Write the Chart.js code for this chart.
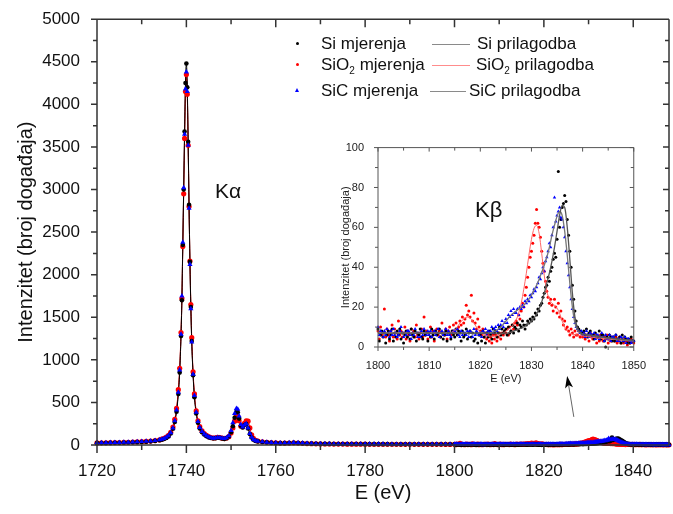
<!DOCTYPE html>
<html>
<head>
<meta charset="utf-8">
<script src="https://cdn.jsdelivr.net/npm/chart.js@4.4.1/dist/chart.umd.min.js"></script>
<style>
  html, body { margin: 0; padding: 0; background: #fff; }
  #wrap { position: relative; width: 673px; height: 514px; overflow: hidden; font-family: "Liberation Sans", Arial, sans-serif; color: #111; }
  #main { position: absolute; left: 0; top: 0; }
  #inset { position: absolute; left: 330px; top: 135px; }
  .lg { position: absolute; font-size: 17px; line-height: 20px; white-space: nowrap; }
  .lg sub { font-size: 10px; vertical-align: -4px; line-height: 0; }
  .ln { position: absolute; height: 0; border-top: 1px solid #8a8a8a; }
  .dot { position: absolute; width: 3px; height: 3px; border-radius: 50%; }
  .tri { position: absolute; width: 0; height: 0; border-left: 2.5px solid transparent; border-right: 2.5px solid transparent; border-bottom: 4px solid #0000ff; }
  .lbl { position: absolute; font-size: 21px; line-height: 24px; }
</style>
</head>
<body>
<div id="wrap">
  <canvas id="main" width="673" height="514"></canvas>
  <canvas id="inset" width="320" height="260"></canvas>

  <div class="dot" style="left:296px;top:42px;background:#000"></div>
  <div class="lg" style="left:321px;top:34px">Si mjerenja</div>
  <div class="ln" style="left:432px;top:44px;width:38px"></div>
  <div class="lg" style="left:477px;top:34px">Si prilagodba</div>

  <div class="dot" style="left:296px;top:63px;background:#ff0000"></div>
  <div class="lg" style="left:321px;top:55px">SiO<sub>2</sub> mjerenja</div>
  <div class="ln" style="left:432px;top:65px;width:38px;border-color:#ff8c8c"></div>
  <div class="lg" style="left:476px;top:55px">SiO<sub>2</sub> prilagodba</div>

  <div class="tri" style="left:295px;top:88px"></div>
  <div class="lg" style="left:321px;top:81px">SiC mjerenja</div>
  <div class="ln" style="left:430px;top:91px;width:36px"></div>
  <div class="lg" style="left:469px;top:81px">SiC prilagodba</div>

  <div class="lbl" style="left:215px;top:179px">Kα</div>
  <div class="lbl" style="left:475px;top:198px;font-size:22px">Kβ</div>
</div>
<script>
// Ka region: energies (eV) and counts
const eAlpha = [1720, 1721, 1722, 1723, 1724, 1725, 1726, 1727, 1728, 1729, 1730, 1731, 1732, 1733, 1734,
  1734.5, 1735, 1735.5, 1736, 1736.5, 1737, 1737.4, 1737.8, 1738.2, 1738.5, 1738.8,
  1739, 1739.2, 1739.4, 1739.6, 1739.8, 1740, 1740.2, 1740.4, 1740.6, 1740.8, 1741, 1741.2,
  1741.5, 1741.8, 1742.2, 1742.6, 1743,
  1743.5, 1744, 1744.5, 1745, 1745.5, 1746, 1746.5, 1747, 1747.5, 1748, 1748.5, 1749, 1749.5, 1750,
  1750.4, 1750.8, 1751.2, 1751.5, 1751.8, 1752.2, 1752.6, 1753, 1753.4, 1753.8, 1754.2, 1754.6,
  1755, 1755.5, 1756,
  1757, 1758, 1759, 1760, 1761, 1762, 1763, 1764, 1765, 1766, 1767, 1768, 1769, 1770, 1771, 1772,
  1773, 1774, 1775, 1776, 1777, 1778, 1779, 1780, 1781, 1782, 1783, 1784, 1785, 1786, 1787, 1788,
  1789, 1790, 1791, 1792, 1793, 1794, 1795, 1796, 1797, 1798, 1799];

const siAlpha = [22, 23, 24, 25, 26, 27, 28, 30, 32, 34, 36, 39, 43, 48, 56,
  62, 70, 82, 100, 135, 190, 270, 390, 600, 850, 1280,
  1700, 2350, 3000, 3680, 4250, 4480, 4200, 3560, 2820, 2150, 1620, 1220,
  820, 560, 370, 260, 195,
  150, 122, 102, 90, 82, 78, 80, 86, 84, 76, 72, 80, 100, 150,
  220, 320, 390, 385, 310, 225, 205, 235, 245, 195, 130, 88,
  62, 48, 42,
  36, 31, 27, 24, 22, 22, 24, 26, 24, 21, 18, 16, 15, 14, 13, 13, 12, 12, 12, 11, 11, 11,
  11, 10, 10, 10, 10, 10, 10, 9, 9, 9, 9, 9, 9, 9, 9, 8, 8, 8, 8, 8, 8];

const sio2Alpha = [24, 25, 26, 27, 28, 29, 30, 32, 34, 36, 39, 42, 46, 52, 60,
  68, 78, 92, 112, 150, 210, 300, 430, 650, 900, 1320,
  1720, 2330, 2950, 3600, 4150, 4350, 4120, 3520, 2800, 2160, 1650, 1260,
  860, 600, 400, 285, 215,
  165, 135, 112, 98, 88, 82, 84, 90, 88, 80, 76, 82, 98, 140,
  200, 280, 330, 335, 285, 220, 215, 255, 285, 280, 200, 120,
  78, 56, 46,
  38, 32, 28, 25, 23, 22, 23, 25, 23, 20, 17, 15, 14, 13, 12, 12, 11, 11, 11, 10, 10, 10,
  10, 10, 9, 9, 9, 9, 9, 9, 9, 8, 8, 8, 8, 8, 8, 8, 8, 8, 8, 7, 7];

const sicAlpha = [25, 26, 27, 28, 29, 30, 31, 33, 35, 37, 40, 43, 47, 53, 61,
  68, 77, 90, 110, 145, 200, 285, 410, 620, 880, 1300,
  1750, 2380, 3020, 3650, 4180, 4380, 4150, 3520, 2780, 2120, 1600, 1210,
  830, 580, 385, 275, 205,
  158, 128, 108, 95, 86, 80, 82, 88, 86, 78, 75, 84, 110, 170,
  260, 370, 430, 420, 340, 240, 210, 235, 250, 200, 135, 90,
  64, 50, 44,
  38, 33, 29, 26, 24, 24, 26, 28, 26, 23, 20, 18, 16, 15, 14, 14, 13, 13, 13, 12, 12, 12,
  12, 11, 11, 11, 11, 11, 10, 10, 10, 10, 10, 10, 10, 9, 9, 9, 9, 9, 9, 9, 9];

// Kb region: spectra from 1800 eV in 0.25 eV channels
const betaStart = 1800, betaStep = 0.25;
const siBeta = [
  9, 3, 6, 8, 5, 7, 2, 6, 8, 4, 6, 9, 3, 7, 5, 8, 6, 9, 4, 7, 2, 6, 8, 5,
  7, 4, 9, 6, 5, 8, 3, 7, 6, 9, 5, 4, 8, 6, 7, 3, 7, 5, 9, 6, 4, 8, 6, 7,
  9, 5, 7, 4, 6, 8, 3, 7, 7, 4, 8, 6, 5, 9, 6, 8, 7, 3, 8, 5, 6, 9, 4, 7,
  8, 5, 7, 3, 4, 7, 2, 6, 6, 3, 8, 5, 2, 7, 5, 8, 6, 4, 9, 7, 8, 5, 7, 10,
  6, 9, 7, 8, 9, 6, 10, 7, 8, 11, 7, 10, 9, 12, 8, 11, 10, 13, 11, 9, 11, 13, 12, 14,
  13, 15, 14, 17, 16, 19, 18, 21, 22, 25, 27, 30, 31, 35, 33, 38, 40, 44, 47, 45,
  54, 88, 60, 64, 70, 72, 76, 73, 64, 56, 48, 40, 31, 24, 18, 13, 10, 9, 8, 7,
  7, 8, 6, 9, 5, 7, 8, 6, 6, 4, 7, 5, 5, 8, 4, 6, 6, 3, 0, 5, 4, 6, 5, 3,
  5, 3, 6, 4, 4, 5, 2, 6, 3, 5, 4, 2, 4, 2, 5, 3, 3];
const sio2Beta = [
  8, 4, 10, 6, 7, 19, 5, 9, 6, 3, 8, 11, 5, 9, 7, 4, 13, 6, 8, 5, 7, 10, 4, 8,
  6, 3, 9, 7, 8, 5, 11, 6, 4, 7, 9, 5, 15, 6, 8, 4, 7, 10, 5, 8, 3, 7, 9, 6,
  8, 5, 12, 7, 6, 9, 4, 8, 10, 6, 8, 11, 7, 12, 9, 10, 13, 11, 15, 12, 14, 21, 16, 18,
  15, 26, 13, 17, 12, 9, 14, 10, 8, 6, 9, 5, 7, 4, 6, 3, 5, 2, 6, 4, 6, 3, 5, 7,
  4, 7, 6, 8, 7, 9, 6, 10, 8, 11, 9, 12, 13, 11, 16, 14, 18, 22, 20, 26, 30, 35, 40, 45,
  48, 52, 56, 62, 69, 62, 60, 55, 48, 42, 38, 33, 28, 25, 22, 24, 21, 18, 24, 20,
  17, 22, 15, 18, 14, 11, 13, 9, 10, 8, 6, 9, 7, 5, 8, 6, 6, 8, 5, 7,
  5, 7, 4, 6, 6, 3, 7, 5, 4, 6, 5, 2, 5, 3, 6, 4, 3, 5, 4, 6, 2, 4, 3, 5,
  4, 3, 5, 2, 3, 5, 2, 4, 2, 4, 3, 1, 3, 2, 4, 3, 2];
const sicBeta = [
  10, 6, 8, 7, 5, 8, 6, 9, 7, 5, 8, 6, 9, 6, 7, 5, 6, 8, 10, 7, 5, 7, 6, 8,
  8, 6, 4, 7, 6, 9, 7, 5, 7, 5, 8, 6, 9, 7, 6, 8, 6, 8, 5, 7, 8, 6, 7, 9,
  5, 7, 8, 6, 7, 9, 6, 8, 6, 5, 7, 8, 8, 7, 9, 6, 5, 8, 6, 7, 7, 6, 8, 5,
  8, 7, 5, 9, 6, 8, 7, 6, 7, 5, 8, 7, 9, 6, 8, 7, 8, 10, 7, 9, 10, 8, 11, 9,
  11, 13, 10, 12, 14, 12, 16, 15, 18, 16, 19, 17, 17, 19, 16, 20, 19, 21, 20, 23, 22, 24, 23, 26,
  25, 27, 29, 28, 30, 32, 35, 34, 37, 40, 38, 43, 45, 48, 52, 50, 56, 60, 75, 63,
  66, 68, 70, 65, 64, 60, 55, 48, 42, 36, 30, 24, 19, 15, 12, 10, 9, 8, 7, 8,
  6, 7, 5, 8, 6, 5, 7, 6, 5, 7, 4, 6, 6, 4, 5, 7, 5, 3, 6, 4, 4, 6, 3, 5,
  5, 4, 6, 3, 4, 3, 5, 4, 3, 5, 2, 4, 4, 3, 2, 3, 3];

// Kb fits from 1800 eV in 0.5 eV steps
const fitStart = 1800, fitStep = 0.5;
const siFit = [
  7, 7, 7, 7, 7, 7, 7, 7, 7, 7, 7, 7, 7, 7, 7, 7, 7, 7, 7, 7, 7, 7, 7, 7, 7, 7,
  7, 7, 7, 7, 7, 7, 7, 7, 7, 7, 7, 7, 7, 7, 7, 7, 7, 7, 7, 7, 7, 7, 7, 7, 7, 7,
  7.5, 8, 8.5, 9, 9.5, 10, 11, 12, 13, 14.5, 16.5, 19, 22.5, 27, 32, 37, 43, 50, 58, 66,
  71, 70, 60, 44, 27, 15, 9.5, 7.5, 6.5,
  6.3, 6.1, 6, 5.8, 5.6, 5.4, 5.2, 5, 4.8, 4.6, 4.5, 4.3, 4.2, 4, 3.9, 3.8, 3.7, 3.6, 3.5, 3.4];
const sio2Fit = [
  7, 7, 7, 7, 7, 7, 7, 7, 7, 7, 7, 7, 7, 7, 7, 7, 7, 7, 7, 7, 7, 7, 7, 7, 7, 7, 7, 7, 7,
  7.5, 8.5, 10, 12, 13.5, 14.5, 15, 14.5, 13, 11, 9, 7.5, 6.5, 6, 5.5, 5.5, 5.5, 5.5, 6, 6.5,
  7, 8, 9, 10, 11.5, 13.5, 17, 22, 29, 37, 46, 54, 59.5, 61, 57, 47, 36, 28, 24, 22,
  21, 19.5, 17, 13, 10, 8, 7, 6.5, 6.2, 6, 5.8, 5.6,
  5.4, 5.2, 5, 4.8, 4.7, 4.5, 4.4, 4.2, 4.1, 4, 3.9, 3.8, 3.7, 3.6, 3.5, 3.4, 3.3, 3.2, 3.1, 3];
const sicFit = [
  7, 7, 7, 7, 7, 7, 7, 7, 7, 7, 7, 7, 7, 7, 7, 7, 7, 7, 7, 7, 7, 7, 7,
  7, 7, 7, 7, 7, 7, 7, 7, 7, 7, 7, 7, 7, 7, 7, 7, 7, 7, 7, 7, 7, 7,
  7.5, 8, 9, 10, 11.5, 13, 14.5, 16, 17, 18, 19, 20, 21, 22.5, 24, 26, 28.5, 31, 34, 37.5,
  41, 45, 50, 56, 61, 65.5, 68, 66, 58, 46, 32, 20, 12, 8.5, 7, 6.5,
  6.2, 6, 5.8, 5.6, 5.4, 5.2, 5, 4.8, 4.6, 4.4, 4.2, 4.1, 3.9, 3.8, 3.6, 3.5, 3.4, 3.3, 3.2, 3.1];

const FONT = '"Liberation Sans", Arial, sans-serif';

const xy = (xs, ys) => ys.map((v, i) => ({ x: xs[i], y: v }));
const channels = (start, step, ys) => ys.map((v, i) => ({ x: start + i * step, y: v }));

// axis frame with major/minor ticks, Origin style
const frame = {
  id: 'frame',
  afterDatasetsDraw(chart, args, o) {
    const { ctx, chartArea: a, scales } = chart;
    ctx.save();
    ctx.strokeStyle = o.color;
    ctx.lineWidth = o.width;
    ctx.beginPath();
    o.sides.forEach(s => {
      const sc = (s.side === 'left' || s.side === 'right') ? scales.y : scales.x;
      if (s.line) {
        if (s.side === 'left') { ctx.moveTo(a.left, a.top); ctx.lineTo(a.left, a.bottom); }
        if (s.side === 'right') { ctx.moveTo(a.right, a.top); ctx.lineTo(a.right, a.bottom); }
        if (s.side === 'top') { ctx.moveTo(a.left, a.top); ctx.lineTo(a.right, a.top); }
        if (s.side === 'bottom') { ctx.moveTo(a.left, a.bottom); ctx.lineTo(a.right, a.bottom); }
      }
      sc.ticks.forEach(t => {
        const len = (t.value % s.major === 0) ? s.len : s.minorLen;
        const p = sc.getPixelForValue(t.value);
        if (s.side === 'left') { ctx.moveTo(a.left, p); ctx.lineTo(a.left + s.dir * len, p); }
        if (s.side === 'right') { ctx.moveTo(a.right, p); ctx.lineTo(a.right - s.dir * len, p); }
        if (s.side === 'top') { ctx.moveTo(p, a.top); ctx.lineTo(p, a.top - s.dir * len); }
        if (s.side === 'bottom') { ctx.moveTo(p, a.bottom); ctx.lineTo(p, a.bottom + s.dir * len); }
      });
    });
    ctx.stroke();
    ctx.restore();
  }
};

// arrow pointing at the Kb region
const arrowFrom = [1826.7, 330], arrowTo = [1825.2, 810];
const arrow = {
  id: 'arrow',
  afterDraw(chart) {
    const { ctx, scales: { x, y } } = chart;
    const x0 = x.getPixelForValue(arrowFrom[0]), y0 = y.getPixelForValue(arrowFrom[1]);
    const x1 = x.getPixelForValue(arrowTo[0]), y1 = y.getPixelForValue(arrowTo[1]);
    const ang = Math.atan2(y1 - y0, x1 - x0);
    ctx.save();
    ctx.strokeStyle = '#666';
    ctx.lineWidth = 1;
    ctx.beginPath();
    ctx.moveTo(x0, y0);
    ctx.lineTo(x1 - 8 * Math.cos(ang), y1 - 8 * Math.sin(ang));
    ctx.stroke();
    ctx.fillStyle = '#000';
    ctx.beginPath();
    ctx.moveTo(x1, y1);
    ctx.lineTo(x1 - 12 * Math.cos(ang) + 4 * Math.sin(ang), y1 - 12 * Math.sin(ang) - 4 * Math.cos(ang));
    ctx.lineTo(x1 - 9 * Math.cos(ang), y1 - 9 * Math.sin(ang));
    ctx.lineTo(x1 - 12 * Math.cos(ang) - 4 * Math.sin(ang), y1 - 12 * Math.sin(ang) + 4 * Math.cos(ang));
    ctx.closePath();
    ctx.fill();
    ctx.restore();
  }
};

function points(data, color, style, r) {
  return { data, showLine: false, pointStyle: style, pointRadius: r, pointBackgroundColor: color,
    pointBorderColor: color, pointBorderWidth: 0, clip: false };
}
function fit(data, color, w) {
  return { data, showLine: true, pointRadius: 0, borderColor: color, borderWidth: w,
    cubicInterpolationMode: 'monotone', clip: false };
}

// main chart
new Chart(document.getElementById('main'), {
  type: 'scatter',
  data: {
    datasets: [
      points(xy(eAlpha, sicAlpha).concat(channels(betaStart, betaStep, sicBeta)), '#0000ff', 'triangle', 3),
      points(xy(eAlpha, siAlpha).concat(channels(betaStart, betaStep, siBeta)), '#000000', 'circle', 2.3),
      points(xy(eAlpha, sio2Alpha).concat(channels(betaStart, betaStep, sio2Beta)), '#ff0000', 'circle', 2.6),
      fit(xy(eAlpha, siAlpha).concat(channels(fitStart, fitStep, siFit)), '#000000', 1),
      fit(xy(eAlpha, sio2Alpha).concat(channels(fitStart, fitStep, sio2Fit)), '#ff0000', 1),
      fit(xy(eAlpha, sicAlpha).concat(channels(fitStart, fitStep, sicFit)), '#333333', 1)
    ]
  },
  options: {
    responsive: false,
    animation: false,
    layout: { padding: { top: 16, right: 0, bottom: 0, left: 0 } },
    plugins: {
      legend: { display: false },
      tooltip: { enabled: false },
      frame: {
        color: '#333', width: 1.5,
        sides: [
          { side: 'left', line: true, dir: -1, major: 500, len: 6, minorLen: 4 },
          { side: 'right', line: true, dir: 1, major: 500, len: 6, minorLen: 4 },
          { side: 'bottom', line: true, dir: 1, major: 20, len: 8, minorLen: 5 },
          { side: 'top', line: true, dir: -1, major: 20, len: 8, minorLen: 5 }
        ]
      }
    },
    scales: {
      x: {
        type: 'linear', min: 1720, max: 1848,
        grid: { display: false }, border: { display: false },
        ticks: { stepSize: 10, includeBounds: false, autoSkip: false, maxRotation: 0, padding: 8,
          color: '#111', font: { family: FONT, size: 17 }, callback: v => v % 20 === 0 ? String(v) : '' },
        title: { display: true, text: 'E (eV)', color: '#111', font: { family: FONT, size: 20 }, padding: { bottom: 9 } },
        afterFit: s => { s.height = 69; }
      },
      y: {
        min: 0, max: 5000,
        grid: { display: false }, border: { display: false },
        ticks: { stepSize: 250, autoSkip: false, padding: 9, color: '#111', font: { family: FONT, size: 17 },
          callback: v => v % 500 === 0 ? String(v) : '' },
        title: { display: true, text: 'Intenzitet (broj događaja)', color: '#111', font: { family: FONT, size: 20 }, padding: { top: 14 } },
        afterFit: s => { s.width = 97; }
      }
    }
  },
  plugins: [frame, arrow]
});

// inset with the Kb lines
new Chart(document.getElementById('inset'), {
  type: 'scatter',
  data: {
    datasets: [
      fit(channels(fitStart, fitStep, siFit), '#555555', 1.3),
      fit(channels(fitStart, fitStep, sicFit), '#777777', 1.3),
      fit(channels(fitStart, fitStep, sio2Fit), '#ff6666', 1),
      points(channels(betaStart, betaStep, sicBeta), '#0000ff', 'triangle', 2),
      points(channels(betaStart, betaStep, siBeta), '#000000', 'circle', 1.5),
      points(channels(betaStart, betaStep, sio2Beta), '#ff0000', 'circle', 1.5)
    ]
  },
  options: {
    responsive: false,
    animation: false,
    layout: { padding: { top: 8, right: 14, bottom: 0, left: 0 } },
    plugins: {
      legend: { display: false },
      tooltip: { enabled: false },
      frame: {
        color: '#555', width: 1,
        sides: [
          { side: 'left', line: true, dir: -1, major: 20, len: 4, minorLen: 3 },
          { side: 'right', line: true, dir: 1, major: 20, len: 4, minorLen: 3 },
          { side: 'bottom', line: true, dir: 1, major: 10, len: 4, minorLen: 3 },
          { side: 'top', line: true, dir: -1, major: 10, len: 4, minorLen: 3 }
        ]
      }
    },
    scales: {
      x: {
        type: 'linear', min: 1800, max: 1850,
        grid: { display: false }, border: { display: false },
        ticks: { stepSize: 5, autoSkip: false, maxRotation: 0, padding: 4, color: '#222',
          font: { family: FONT, size: 11 }, callback: v => v % 10 === 0 ? String(v) : '' },
        title: { display: true, text: 'E (eV)', color: '#222', font: { family: FONT, size: 11 }, padding: { bottom: 9 } },
        afterFit: s => { s.height = 48; }
      },
      y: {
        min: 0, max: 100,
        grid: { display: false }, border: { display: false },
        ticks: { stepSize: 10, autoSkip: false, padding: 6, color: '#222', font: { family: FONT, size: 11 },
          callback: v => v % 20 === 0 ? String(v) : '' },
        title: { display: true, text: 'Intenzitet (broj događaja)', color: '#222', font: { family: FONT, size: 11 }, padding: { top: 9 } },
        afterFit: s => { s.width = 48; }
      }
    }
  },
  plugins: [frame]
});
</script>
</body>
</html>
